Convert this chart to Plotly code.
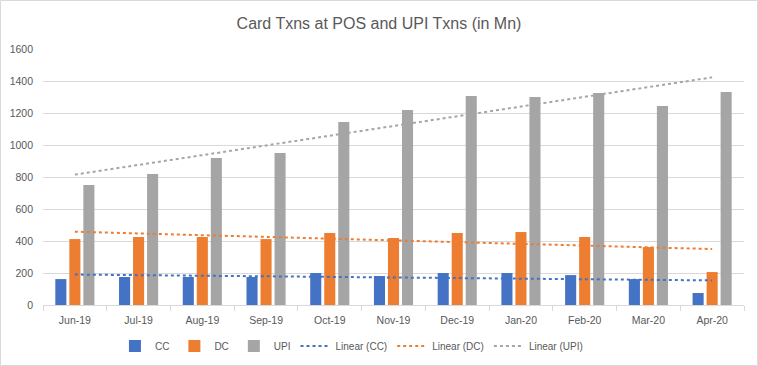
import numpy as np
import plotly.graph_objects as go

months = ["Jun-19", "Jul-19", "Aug-19", "Sep-19", "Oct-19", "Nov-19",
          "Dec-19", "Jan-20", "Feb-20", "Mar-20", "Apr-20"]
cc = [162, 175, 175, 175, 200, 181, 200, 200, 187, 162, 75]
dc = [412, 425, 425, 412, 450, 419, 450, 456, 425, 362, 206]
upi = [750, 819, 919, 950, 1144, 1219, 1306, 1300, 1325, 1244, 1331]

colors = {"CC": "#4472C4", "DC": "#ED7D31", "UPI": "#A5A5A5"}
series = {"CC": cc, "DC": dc, "UPI": upi}

fig = go.Figure()
for name, vals in series.items():
    fig.add_trace(go.Bar(x=months, y=vals, name=name, marker_color=colors[name],
                         marker_line_width=0))

xi = np.arange(len(months))
for name, vals in series.items():
    m, b = np.polyfit(xi, vals, 1)
    fig.add_trace(go.Scatter(x=months, y=m * xi + b, mode="lines",
                             name=f"Linear ({name})",
                             line=dict(color=colors[name], dash="dot", width=2)))

font = "Liberation Sans"
fig.update_layout(
    width=758, height=366,
    margin=dict(l=43, r=14, t=49, b=61, autoexpand=False),
    paper_bgcolor="white", plot_bgcolor="white",
    barmode="group", bargap=0.34, bargroupgap=0.21,
    title=dict(text="Card Txns at POS and UPI Txns (in Mn)", x=0.5, xanchor="center",
               y=1 - 23 / 366, yanchor="middle",
               font=dict(family=font, size=16, color="#595959")),
    font=dict(family=font, size=10, color="#595959"),
    legend=dict(orientation="h", x=0.44, xanchor="center", y=-0.16, yanchor="middle",
                font=dict(size=10, color="#595959"), traceorder="normal",
                itemwidth=30),
    showlegend=True,
)
fig.update_xaxes(showline=True, linecolor="#D9D9D9", linewidth=1, automargin=False,
                 ticks="outside", tickson="boundaries", ticklen=5, tickcolor="#D9D9D9",
                 ticklabelstandoff=5,
                 showgrid=False, tickfont=dict(size=10.5, color="#595959"))
fig.update_yaxes(range=[0, 1600], dtick=200, showline=False, gridcolor="#D9D9D9",
                 gridwidth=1, zeroline=False, tickfont=dict(size=10.5, color="#595959"),
                 ticklabelstandoff=9, automargin=False)
fig.add_shape(type="rect", xref="paper", yref="paper", x0=-42.5/701, x1=1+13.5/701,
              y0=-60.5/256, y1=1+48.5/256, line=dict(color="#D9D9D9", width=1))

fig.write_html("out.html", config={"displayModeBar": False},
               post_script="document.body.style.margin='0';document.body.style.padding='0';")
